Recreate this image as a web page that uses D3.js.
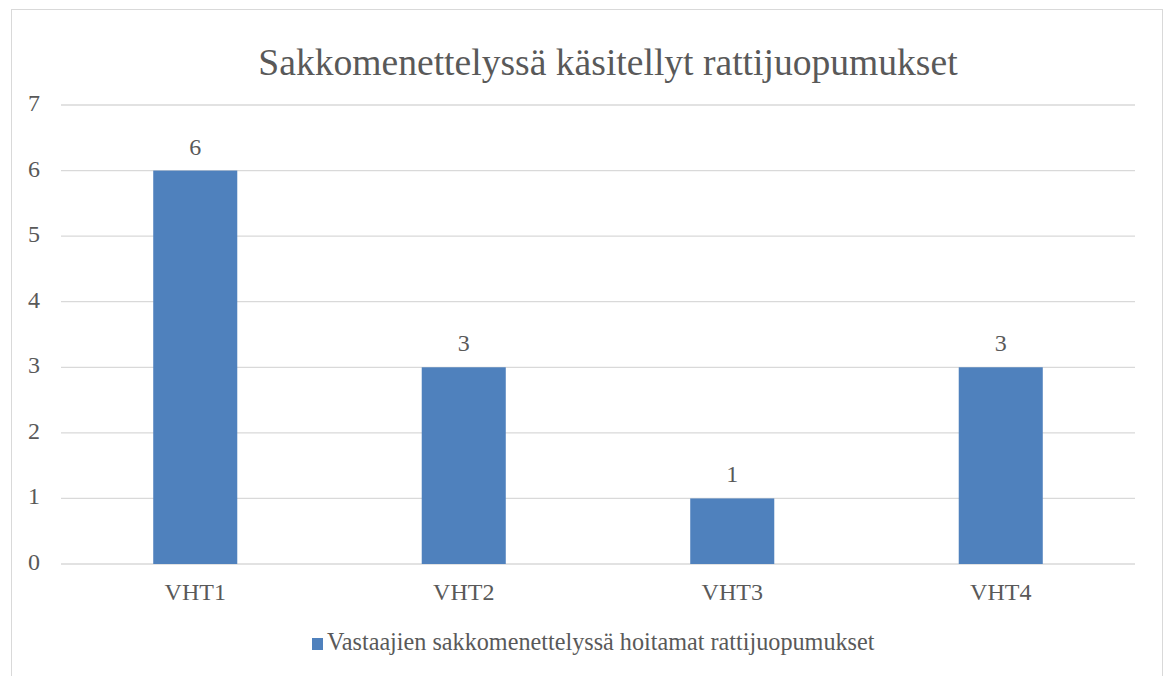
<!DOCTYPE html>
<html>
<head>
<meta charset="utf-8">
<script src="https://cdn.jsdelivr.net/npm/d3@7"></script>
<style>
    body { margin: 0; background: #fff; }
    text { font-family: "Liberation Serif", "Times New Roman", serif; fill: #595959; }
</style>
</head>
<body>
<script>
var categories = ["VHT1", "VHT2", "VHT3", "VHT4"];
var values = [6, 3, 1, 3];
var yTicks = [0, 1, 2, 3, 4, 5, 6, 7];
var title = "Sakkomenettelyssä käsitellyt rattijuopumukset";
var seriesName = "Vastaajien sakkomenettelyssä hoitamat rattijuopumukset";

var w = 1164,
    h = 676,
    plotLeft = 61,
    plotRight = 1135,
    plotTop = 105,
    plotBottom = 564,
    barColor = "#4f81bd";

var svg = d3.select("body").append("svg")
    .attr("width", w)
    .attr("height", h);

// chart border
svg.append("rect")
    .attr("x", 11.5)
    .attr("y", 9.5)
    .attr("width", 1151)
    .attr("height", 720)
    .attr("fill", "none")
    .attr("stroke", "#d9d9d9");

var xScale = d3.scaleBand()
    .domain(categories)
    .range([plotLeft, plotRight])
    .paddingInner(0.687)
    .paddingOuter(0.3435);

var yScale = d3.scaleLinear()
    .domain([0, 7])
    .range([plotBottom, plotTop]);

// gridlines
svg.append("g")
    .selectAll("line")
    .data(yTicks)
    .enter()
    .append("line")
    .attr("x1", plotLeft)
    .attr("x2", plotRight)
    .attr("y1", function(d) { return yScale(d); })
    .attr("y2", function(d) { return yScale(d); })
    .attr("stroke", "#d9d9d9")
    .attr("stroke-width", 1.3);

// y labels
svg.append("g")
    .selectAll("text")
    .data(yTicks)
    .enter()
    .append("text")
    .attr("x", 40)
    .attr("y", function(d) { return yScale(d) + 6; })
    .attr("text-anchor", "end")
    .attr("font-size", 24)
    .text(function(d) { return d; });

// bars
svg.append("g")
    .selectAll("rect")
    .data(values)
    .enter()
    .append("rect")
    .attr("x", function(d, i) { return xScale(categories[i]); })
    .attr("width", xScale.bandwidth())
    .attr("y", function(d) { return yScale(d); })
    .attr("height", function(d) { return yScale(0) - yScale(d); })
    .attr("fill", barColor);

// data labels
svg.append("g")
    .selectAll("text")
    .data(values)
    .enter()
    .append("text")
    .attr("x", function(d, i) { return xScale(categories[i]) + xScale.bandwidth() / 2; })
    .attr("y", function(d) { return yScale(d) - 16; })
    .attr("text-anchor", "middle")
    .attr("font-size", 24)
    .text(function(d) { return d; });

// x labels
svg.append("g")
    .selectAll("text")
    .data(categories)
    .enter()
    .append("text")
    .attr("x", function(d) { return xScale(d) + xScale.bandwidth() / 2; })
    .attr("y", plotBottom + 36)
    .attr("text-anchor", "middle")
    .attr("font-size", 24)
    .text(function(d) { return d; });

// title
svg.append("text")
    .attr("x", 608)
    .attr("y", 75)
    .attr("text-anchor", "middle")
    .attr("font-size", 37.6)
    .text(title);

// legend
var legend = svg.append("g").attr("class", "legend");
legend.append("rect")
    .attr("x", 312)
    .attr("y", 638)
    .attr("width", 11)
    .attr("height", 12)
    .attr("fill", barColor);
legend.append("text")
    .attr("x", 327)
    .attr("y", 650)
    .attr("font-size", 24.2)
    .text(seriesName);
</script>
</body>
</html>
